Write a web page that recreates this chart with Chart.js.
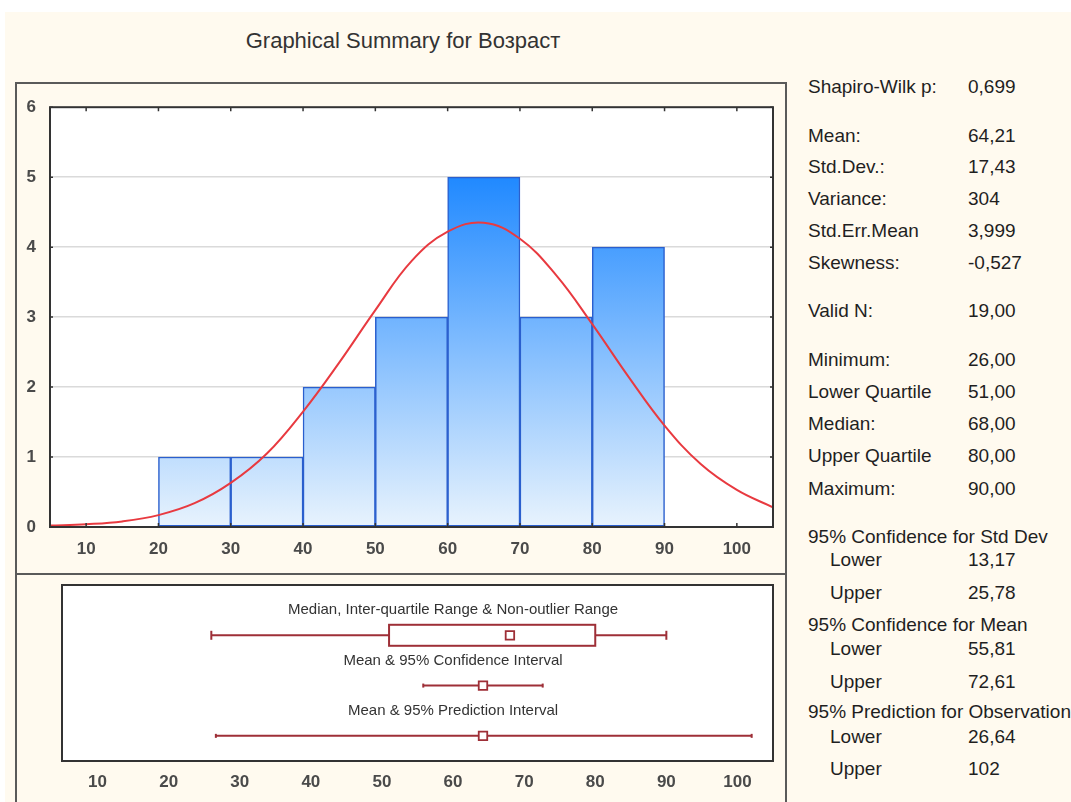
<!DOCTYPE html>
<html>
<head>
<meta charset="utf-8">
<script src="https://cdn.jsdelivr.net/npm/chart.js@4.4.1/dist/chart.umd.min.js"></script>
<style>
  html, body { margin: 0; padding: 0; background: #ffffff; }
  body { width: 1071px; height: 802px; position: relative; overflow: hidden; font-family: "Liberation Sans", Arial, sans-serif; }
  #paper { position: absolute; left: 5px; top: 12px; right: 0; bottom: 0; background: #fffaef; }
  #title { position: absolute; left: 0; width: 806px; top: 28px; text-align: center; font-size: 22px; color: #333; }
  .frame { position: absolute; border: 2px solid #5a5a5a; box-sizing: border-box; }
  canvas { position: absolute; }
  .stat { position: absolute; font-size: 19px; color: #1f1f1f; white-space: nowrap; line-height: 22px; }
</style>
</head>
<body>
<div id="paper"></div>
<div id="title">Graphical Summary for Возраст</div>
<div class="frame" style="left:15px; top:82px; width:772px; height:493px;"></div>
<div class="frame" style="left:15px; top:573px; width:772px; height:240px;"></div>
<canvas id="histChart" width="770" height="490" style="left:15px; top:83px;"></canvas>
<canvas id="boxChart" width="770" height="229" style="left:15px; top:573px;"></canvas>
<div id="stats"></div>

<script>
// histogram of Возраст (bins of width 10)
const binCenters = [25, 35, 45, 55, 65, 75, 85];
const binCounts = [1, 1, 2, 3, 5, 3, 4];

// fitted normal curve
const curveX = [5, 10, 15, 20, 25, 30, 35, 40, 45, 50, 55, 60, 65, 70, 75, 80, 85, 90, 95, 100, 105];
const curveY = [0.02, 0.04, 0.08, 0.17, 0.34, 0.63, 1.05, 1.65, 2.35, 3.1, 3.8, 4.22, 4.35, 4.12, 3.6, 2.9, 2.15, 1.45, 0.9, 0.53, 0.28];

const xTicks = [10, 20, 30, 40, 50, 60, 70, 80, 90, 100];
const yTicks = [0, 1, 2, 3, 4, 5, 6];

// box plot values
const nonOutlierRange = [26, 90];
const quartiles = [51, 80];
const median = 68;
const mean = 64.21;
const meanCI = [55.81, 72.61];
const predictionInterval = [26.64, 102];
const rowLabels = ['Median, Inter-quartile Range & Non-outlier Range', 'Mean & 95% Confidence Interval', 'Mean & 95% Prediction Interval'];

// summary table on the right
const statLabels = ['Shapiro-Wilk p:', 'Mean:', 'Std.Dev.:', 'Variance:', 'Std.Err.Mean', 'Skewness:', 'Valid N:',
  'Minimum:', 'Lower Quartile', 'Median:', 'Upper Quartile', 'Maximum:',
  '95% Confidence for Std Dev', 'Lower', 'Upper', '95% Confidence for Mean', 'Lower', 'Upper',
  '95% Prediction for Observation', 'Lower', 'Upper'];
const statValues = ['0,699', '64,21', '17,43', '304', '3,999', '-0,527', '19,00',
  '26,00', '51,00', '68,00', '80,00', '90,00',
  '', '13,17', '25,78', '', '55,81', '72,61', '', '26,64', '102'];

const DARK_RED = '#9e2f37';
const tickFont = { family: '"Liberation Sans", Arial, sans-serif', size: 17, weight: 'bold' };

// stats text layout
const rowY = [87, 136, 167, 199, 231, 263, 311, 360, 392, 424, 456, 489, 537, 560, 593, 625, 649, 682, 712, 737, 769];
function renderStats() {
    const box = document.getElementById('stats');
    statLabels.forEach((label, i) => {
        const indent = label === 'Lower' || label === 'Upper';
        const l = document.createElement('div');
        l.className = 'stat';
        l.style.left = (indent ? 830 : 808) + 'px';
        l.style.top = (rowY[i] - 11) + 'px';
        l.textContent = label;
        box.appendChild(l);
        if (statValues[i]) {
            const v = document.createElement('div');
            v.className = 'stat';
            v.style.left = '968px';
            v.style.top = (rowY[i] - 11) + 'px';
            v.textContent = statValues[i];
            box.appendChild(v);
        }
    });
}

// white plot background + dark border + small inner ticks
const plotFrame = {
    id: 'plotFrame',
    beforeDraw(chart) {
        const { ctx, chartArea: a } = chart;
        ctx.save();
        ctx.fillStyle = '#ffffff';
        ctx.fillRect(a.left, a.top, a.right - a.left, a.bottom - a.top);
        ctx.restore();
    },
    afterDraw(chart, args, opts) {
        const { ctx, chartArea: a, scales } = chart;
        ctx.save();
        ctx.strokeStyle = '#333';
        ctx.lineWidth = 2;
        ctx.strokeRect(a.left, a.top, a.right - a.left, a.bottom - a.top);
        if (opts.ticks) {
            ctx.lineWidth = 1.5;
            ctx.beginPath();
            xTicks.forEach(v => {
                const x = scales.x.getPixelForValue(v);
                ctx.moveTo(x, a.top); ctx.lineTo(x, a.top + 4);
                ctx.moveTo(x, a.bottom); ctx.lineTo(x, a.bottom - 4);
            });
            yTicks.forEach(v => {
                const y = scales.y.getPixelForValue(v);
                ctx.moveTo(a.left, y); ctx.lineTo(a.left + 3, y);
                ctx.moveTo(a.right, y); ctx.lineTo(a.right - 3, y);
            });
            ctx.stroke();
        }
        ctx.restore();
    }
};

function renderHistogram() {
    const ctx = document.getElementById('histChart').getContext('2d');
    new Chart(ctx, {
        data: {
            datasets: [{
                type: 'line',
                data: curveX.map((x, i) => ({ x: x, y: curveY[i] })),
                borderColor: '#e83a40',
                borderWidth: 2,
                pointRadius: 0,
                tension: 0.4,
                order: 0
            }, {
                type: 'bar',
                data: binCenters.map((c, i) => ({ x: c, y: binCounts[i] })),
                backgroundColor: context => {
                    const chart = context.chart;
                    if (!chart.chartArea) return '#5aa8ff';
                    const y0 = chart.scales.y.getPixelForValue(0);
                    const y5 = chart.scales.y.getPixelForValue(5);
                    const g = chart.ctx.createLinearGradient(0, y5, 0, y0);
                    g.addColorStop(0, '#2089ff');
                    g.addColorStop(1, '#e8f3fd');
                    return g;
                },
                borderColor: '#2a5fce',
                borderWidth: 1.5,
                borderSkipped: false,
                barPercentage: 1,
                categoryPercentage: 1,
                order: 1
            }]
        },
        options: {
            responsive: false,
            animation: false,
            layout: { padding: { top: 19, right: 12, left: 0, bottom: 0 } },
            plugins: { legend: { display: false }, tooltip: { enabled: false }, plotFrame: { ticks: true } },
            scales: {
                x: {
                    type: 'linear',
                    min: 5,
                    max: 105,
                    offset: false,
                    afterBuildTicks: s => { s.ticks = xTicks.map(v => ({ value: v })); },
                    afterFit: s => { s.height = 46; },
                    grid: { display: false, drawTicks: false, offset: false },
                    border: { display: false },
                    ticks: { color: '#4a4a4a', font: tickFont, padding: 12, maxRotation: 0, autoSkip: false }
                },
                y: {
                    type: 'linear',
                    min: 0,
                    max: 6,
                    afterBuildTicks: s => { s.ticks = yTicks.map(v => ({ value: v })); },
                    afterFit: s => { s.width = 35; },
                    grid: {
                        drawTicks: false,
                        color: c => (c.tick && (c.tick.value === 0 || c.tick.value === 6)) ? 'rgba(0,0,0,0)' : '#dadada',
                        lineWidth: 1.5
                    },
                    border: { display: false },
                    ticks: { color: '#4a4a4a', font: tickFont, padding: 14 }
                }
            }
        },
        plugins: [plotFrame]
    });
}

// IQR box + row captions
const boxPlotExtras = {
    id: 'boxPlotExtras',
    beforeDatasetsDraw(chart) {
        const { ctx, scales } = chart;
        const x1 = scales.x.getPixelForValue(quartiles[0]);
        const x2 = scales.x.getPixelForValue(quartiles[1]);
        const y = scales.y.getPixelForValue(1);
        ctx.save();
        ctx.fillStyle = '#ffffff';
        ctx.strokeStyle = DARK_RED;
        ctx.lineWidth = 2;
        ctx.fillRect(x1, y - 10.5, x2 - x1, 21);
        ctx.strokeRect(x1, y - 10.5, x2 - x1, 21);

        ctx.fillStyle = '#333';
        ctx.font = '15px "Liberation Sans", Arial, sans-serif';
        ctx.textAlign = 'center';
        ctx.textBaseline = 'middle';
        const cx = scales.x.getPixelForValue(60);
        rowLabels.forEach((t, i) => {
            ctx.fillText(t, cx, scales.y.getPixelForValue(i + 0.5));
        });
        ctx.restore();
    }
};

function renderBoxPlot() {
    const ctx = document.getElementById('boxChart').getContext('2d');
    const cap = r => c => (c.dataIndex === 0 || c.dataIndex === c.dataset.data.length - 1) ? r : 0;
    new Chart(ctx, {
        type: 'line',
        data: {
            datasets: [{
                // median & means
                data: [{ x: median, y: 1 }, { x: mean, y: 2 }, { x: mean, y: 3 }],
                showLine: false,
                pointStyle: 'rect',
                pointRadius: 6,
                pointBackgroundColor: '#ffffff',
                pointBorderColor: DARK_RED,
                pointBorderWidth: 1.8,
                order: 0
            }, {
                // whiskers, broken by the box
                data: [{ x: nonOutlierRange[0], y: 1 }, { x: quartiles[0], y: 1 }, { x: median, y: null },
                       { x: quartiles[1], y: 1 }, { x: nonOutlierRange[1], y: 1 }],
                borderColor: DARK_RED,
                borderWidth: 2,
                pointStyle: 'line',
                rotation: 90,
                pointRadius: cap(4.5),
                pointBorderColor: DARK_RED,
                pointBorderWidth: 2,
                order: 1
            }, {
                data: [{ x: meanCI[0], y: 2 }, { x: meanCI[1], y: 2 }],
                borderColor: DARK_RED,
                borderWidth: 2,
                pointStyle: 'line',
                rotation: 90,
                pointRadius: cap(2),
                pointBorderColor: DARK_RED,
                pointBorderWidth: 2,
                order: 1
            }, {
                data: [{ x: predictionInterval[0], y: 3 }, { x: predictionInterval[1], y: 3 }],
                borderColor: DARK_RED,
                borderWidth: 2,
                pointStyle: 'line',
                rotation: 90,
                pointRadius: cap(2),
                pointBorderColor: DARK_RED,
                pointBorderWidth: 2,
                order: 1
            }]
        },
        options: {
            responsive: false,
            animation: false,
            layout: { padding: { top: 12, right: 12, left: 47, bottom: 0 } },
            plugins: { legend: { display: false }, tooltip: { enabled: false }, plotFrame: { ticks: false } },
            scales: {
                x: {
                    type: 'linear',
                    min: 5,
                    max: 105,
                    afterBuildTicks: s => { s.ticks = xTicks.map(v => ({ value: v })); },
                    afterFit: s => { s.height = 41; },
                    grid: { display: false, drawTicks: false },
                    border: { display: false },
                    ticks: { color: '#4a4a4a', font: tickFont, padding: 11, maxRotation: 0, autoSkip: false }
                },
                y: {
                    type: 'linear',
                    display: false,
                    reverse: true,
                    min: 0,
                    max: 3.5
                }
            }
        },
        plugins: [plotFrame, boxPlotExtras]
    });
}

document.addEventListener('DOMContentLoaded', () => {
    renderStats();
    renderHistogram();
    renderBoxPlot();
});
</script>
</body>
</html>
